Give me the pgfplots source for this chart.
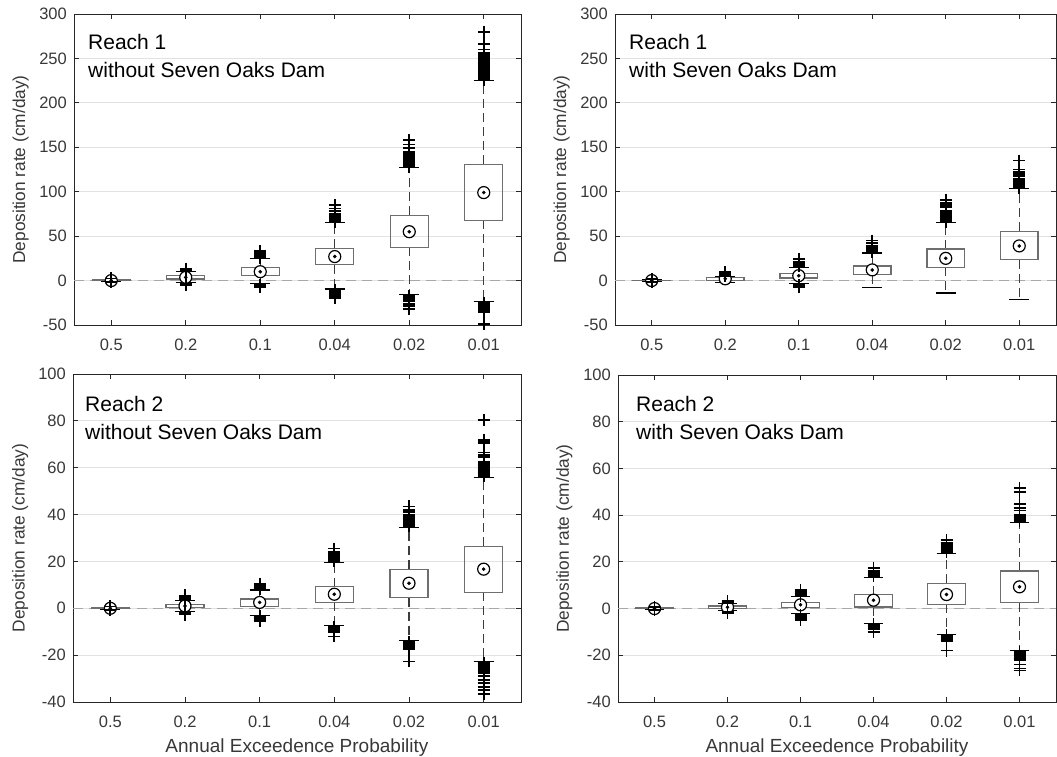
\documentclass[border=0pt]{standalone}
\usepackage{pgfplots}
\pgfplotsset{compat=1.18}
\usepgfplotslibrary{statistics}
\usepackage{fontspec}
\setmainfont{Liberation Sans}

\definecolor{axcol}{HTML}{262626}
\definecolor{labcol}{HTML}{383838}
\definecolor{gridcol}{HTML}{E2E2E2}
\definecolor{zerocol}{HTML}{A8A8A8}
\definecolor{boxgray}{HTML}{6E6E6E}
\definecolor{whiskcol}{HTML}{3C3C3C}

\tikzset{tag/.style={anchor=base west, inner sep=0pt, font=\fontsize{21}{24}\selectfont, text=black}}

\pgfplotsset{
  panel/.style={
    scale only axis, anchor=north west,
    xmin=0.5, xmax=6.5, xtick={1,...,6},
    xticklabels={0.5,0.2,0.1,0.04,0.02,0.01},
    clip=false,
    boxplot/draw direction=y,
    tick align=inside, major tick length=5pt,
    tick style={axcol, line width=0.8pt},
    axis line style={axcol, line width=0.8pt},
    ymajorgrids, grid style={gridcol, line width=0.8pt},
    tick label style={font=\fontsize{16.5}{18}\selectfont, text=labcol},
    xticklabel style={anchor=base, yshift=-25pt},
    yticklabel style={anchor=east, inner sep=0pt, xshift=-7pt},
    /pgf/number format/assume math mode=true,
    ylabel={Deposition rate (cm/day)},
    ylabel style={anchor=base, font=\fontsize{17.3}{19}\selectfont, text=labcol},
    xlabel style={at={(axis description cs:0.5,0)}, anchor=base, yshift=-50pt,
      font=\fontsize{19}{21}\selectfont, text=labcol},
  },
  aep/.style={
    mark=+, mark size=6pt, mark options={solid, line width=1.7pt, draw=black},
    boxplot/draw direction=y,
    boxplot/box extend=0.51,
    boxplot/whisker extend=0.27,
    boxplot/every box/.style={draw=boxgray, line width=1.2pt, solid},
    boxplot/draw/median/.code={%
      \draw[black, line width=1.2pt, solid, fill=white]
        (boxplot box cs:\pgfplotsboxplotvalue{median},0.5) circle[radius=6pt];
      \fill[black] (boxplot box cs:\pgfplotsboxplotvalue{median},0.5) circle[radius=1.6pt];
    },
    boxplot/draw/lower whisker/.code={%
      \draw[whiskcol, line width=1.1pt, dash pattern=on 9pt off 5pt]
        (boxplot box cs:\pgfplotsboxplotvalue{lower quartile},0.5) --
        (boxplot box cs:\pgfplotsboxplotvalue{lower whisker},0.5);
      \draw[black, line width=1.1pt, solid]
        (boxplot whisker cs:\pgfplotsboxplotvalue{lower whisker},0) --
        (boxplot whisker cs:\pgfplotsboxplotvalue{lower whisker},1);
    },
    boxplot/draw/upper whisker/.code={%
      \draw[whiskcol, line width=1.1pt, dash pattern=on 9pt off 5pt]
        (boxplot box cs:\pgfplotsboxplotvalue{upper quartile},0.5) --
        (boxplot box cs:\pgfplotsboxplotvalue{upper whisker},0.5);
      \draw[black, line width=1.1pt, solid]
        (boxplot whisker cs:\pgfplotsboxplotvalue{upper whisker},0) --
        (boxplot whisker cs:\pgfplotsboxplotvalue{upper whisker},1);
    },
  },
  zeroline/.style={zerocol, line width=1.2pt, dash pattern=on 10pt off 6pt, forget plot},
}

% one box: position, lower whisker, lower quartile, median, upper quartile, upper whisker, outliers
\newcommand{\bx}[7]{%
  \addplot[aep, boxplot prepared={draw position=#1, lower whisker=#2,
    lower quartile=#3, median=#4, upper quartile=#5, upper whisker=#6}]
    table[row sep=\\, y index=0] {data\\ #7};
}

\begin{document}
\begin{tikzpicture}
\useasboundingbox (0pt,0pt) rectangle (1057pt,-757pt);

% ---------------- Reach 1, without dam
\begin{axis}[panel, at={(74pt,-14pt)}, width=447pt, height=311pt,
  ymin=-50, ymax=300, ytick={-50,0,...,300},
  ylabel style={at={(axis description cs:-0.1096,0.5)}}]
\addplot[zeroline] coordinates {(0.5,0) (6.5,0)};
\bx{1}{-1}{0}{0}{0.6}{1.5}{2.5\\ -2\\}
\bx{2}{-2.5}{1.8}{3.6}{5.3}{10.5}{11\\ 11.8\\ 12.6\\ 13.4\\ -3.2\\ -4\\ -4.8\\}
\bx{3}{-3.5}{6}{10}{14.3}{24.5}{25\\ 26.5\\ 28\\ 29.5\\ 31\\ 33\\ -4.5\\ -6\\ -7.5\\}
\bx{4}{-9.5}{18}{27}{36.5}{65}{66\\ 67.5\\ 69\\ 70.5\\ 72\\ 73.5\\ 75\\ 78\\ 81\\ 85\\ -10.5\\ -12\\ -13.5\\ -15\\ -16.5\\ -18\\ -20\\}
\bx{5}{-16}{37.5}{55}{73.5}{127}{128\\ 129.5\\ 131\\ 132.5\\ 134\\ 135.5\\ 137\\ 138.5\\ 140\\ 141.5\\ 143\\ 144.5\\ 149\\ 153\\ 158\\ -17\\ -18.5\\ -20\\ -21.5\\ -23\\ -26\\ -29\\ -32\\}
\bx{6}{-24}{68}{99}{131}{225}{226\\ 227.5\\ 229\\ 230.5\\ 232\\ 233.5\\ 235\\ 236.5\\ 238\\ 239.5\\ 241\\ 242.5\\ 244\\ 245.5\\ 247\\ 248.5\\ 250\\ 251.5\\ 253\\ 254.5\\ 256\\ 260\\ 266\\ 280\\ -25\\ -26.5\\ -28\\ -29.5\\ -31\\ -32.5\\ -34\\ -35.5\\ -49\\}
\node[tag] at ([xshift=14pt,yshift=-36pt]rel axis cs:0,1) {Reach 1};
\node[tag] at ([xshift=14pt,yshift=-64pt]rel axis cs:0,1) {without Seven Oaks Dam};
\end{axis}

% ---------------- Reach 1, with dam
\begin{axis}[panel, at={(615pt,-14pt)}, width=441pt, height=311pt,
  ymin=-50, ymax=300, ytick={-50,0,...,300},
  ylabel style={at={(axis description cs:-0.1111,0.5)}}]
\addplot[zeroline] coordinates {(0.5,0) (6.5,0)};
\bx{1}{-0.8}{0}{0}{0.5}{1.2}{2\\ -1.5\\}
\bx{2}{-2}{0.5}{2}{3.2}{4.5}{5\\ 5.8\\ 6.6\\ 7.4\\ 8.2\\ 10\\}
\bx{3}{-3.5}{3}{5.5}{8.2}{15}{16\\ 17\\ 18\\ 19\\ 21\\ 24\\ -5\\ -7.5\\}
\bx{4}{-8}{6.5}{12}{16.5}{31}{32\\ 33.5\\ 35\\ 36.5\\ 38\\ 39.5\\ 42\\ 45\\}
\bx{5}{-14}{15}{25}{35.5}{65}{66\\ 67.5\\ 69\\ 70.5\\ 72\\ 73.5\\ 75\\ 76.5\\ 78\\ 83\\ 84.5\\ 86\\ 87.5\\ 91\\}
\bx{6}{-21.5}{23.5}{39}{55.5}{103.5}{104.5\\ 106\\ 107.5\\ 109\\ 110.5\\ 112\\ 113.5\\ 115\\ 118\\ 120\\ 122\\ 125\\ 135\\}
\node[tag] at ([xshift=14pt,yshift=-36pt]rel axis cs:0,1) {Reach 1};
\node[tag] at ([xshift=14pt,yshift=-64pt]rel axis cs:0,1) {with Seven Oaks Dam};
\end{axis}

% ---------------- Reach 2, without dam
\begin{axis}[panel, at={(73pt,-374pt)}, width=448pt, height=328pt,
  ymin=-40, ymax=100, ytick={-40,-20,...,100},
  ylabel style={at={(axis description cs:-0.108,0.5)}},
  xlabel={Annual Exceedence Probability}]
\addplot[zeroline] coordinates {(0.5,0) (6.5,0)};
\bx{1}{-0.4}{0}{0}{0.3}{0.5}{0.8\\ -0.7\\}
\bx{2}{-1.4}{0.4}{1}{1.7}{3.3}{3.7\\ 4.2\\ 4.7\\ 5.5\\ -1.8\\ -2.2\\ -2.7\\}
\bx{3}{-3}{0.7}{2.5}{4}{7.8}{8.2\\ 8.7\\ 9.2\\ 9.7\\ 10.3\\ -3.5\\ -4\\ -4.5\\ -5\\ -5.5\\}
\bx{4}{-7.3}{2.6}{6}{9.3}{19.7}{20.2\\ 20.8\\ 21.4\\ 22\\ 22.6\\ 23.2\\ 24\\ 25.5\\ -7.8\\ -8.4\\ -9\\ -9.6\\ -10.2\\ -12\\}
\bx{5}{-13.8}{4.6}{10.7}{16.7}{34.6}{35.2\\ 35.8\\ 36.4\\ 37\\ 37.6\\ 38.2\\ 38.8\\ 39.4\\ 40\\ 41\\ 42\\ 43.5\\ -14.3\\ -14.9\\ -15.5\\ -16.1\\ -16.7\\ -17.5\\ -22.7\\}
\bx{6}{-22.8}{6.8}{16.7}{26.4}{56}{56.6\\ 57.2\\ 57.8\\ 58.4\\ 59\\ 59.6\\ 60.2\\ 60.8\\ 61.4\\ 62\\ 62.6\\ 64.5\\ 65.5\\ 66.5\\ 70.5\\ 71.5\\ 72\\ 80.5\\ -23.3\\ -23.9\\ -24.5\\ -25.1\\ -25.7\\ -26.3\\ -26.9\\ -27.5\\ -29\\ -30.5\\ -32\\ -33.5\\ -35\\ -36.5\\}
\node[tag] at ([xshift=12pt,yshift=-37.5pt]rel axis cs:0,1) {Reach 2};
\node[tag] at ([xshift=12pt,yshift=-65.5pt]rel axis cs:0,1) {without Seven Oaks Dam};
\end{axis}

% ---------------- Reach 2, with dam
\begin{axis}[panel, at={(618pt,-375pt)}, width=438pt, height=327pt,
  ymin=-40, ymax=100, ytick={-40,-20,...,100},
  ylabel style={at={(axis description cs:-0.112,0.5)}},
  xlabel={Annual Exceedence Probability}]
\addplot[zeroline] coordinates {(0.5,0) (6.5,0)};
\bx{1}{-0.3}{0}{0}{0.3}{0.5}{0.8\\ -0.6\\}
\bx{2}{-0.8}{0.1}{0.6}{1.1}{2}{2.4\\ 2.8\\ 3.3\\ -1.3\\ -1.8\\}
\bx{3}{-2.3}{0.4}{1.6}{2.6}{5}{5.5\\ 6\\ 6.5\\ 7\\ 8\\ -2.8\\ -3.3\\ -3.8\\ -4.3\\ -5\\}
\bx{4}{-6.3}{0.7}{3.6}{6}{13.3}{13.8\\ 14.4\\ 15\\ 15.6\\ 16.2\\ 17.5\\ -6.8\\ -7.4\\ -8\\ -8.6\\ -10\\}
\bx{5}{-11}{1.8}{6}{10.8}{23.6}{24.1\\ 24.7\\ 25.3\\ 25.9\\ 26.5\\ 27.1\\ 27.7\\ 28.3\\ 29.5\\ -11.5\\ -12.1\\ -12.7\\ -13.3\\ -14\\ -18\\}
\bx{6}{-18}{2.6}{9.3}{16.1}{37}{37.5\\ 38.1\\ 38.7\\ 39.3\\ 40\\ 42\\ 43\\ 44.5\\ 45\\ 50\\ 51.5\\ -18.5\\ -19.1\\ -19.7\\ -20.3\\ -20.9\\ -21.5\\ -22.1\\ -24\\ -25.7\\ -26.5\\}
\node[tag] at ([xshift=18pt,yshift=-36.5pt]rel axis cs:0,1) {Reach 2};
\node[tag] at ([xshift=18pt,yshift=-64.5pt]rel axis cs:0,1) {with Seven Oaks Dam};
\end{axis}
\end{tikzpicture}
\end{document}
